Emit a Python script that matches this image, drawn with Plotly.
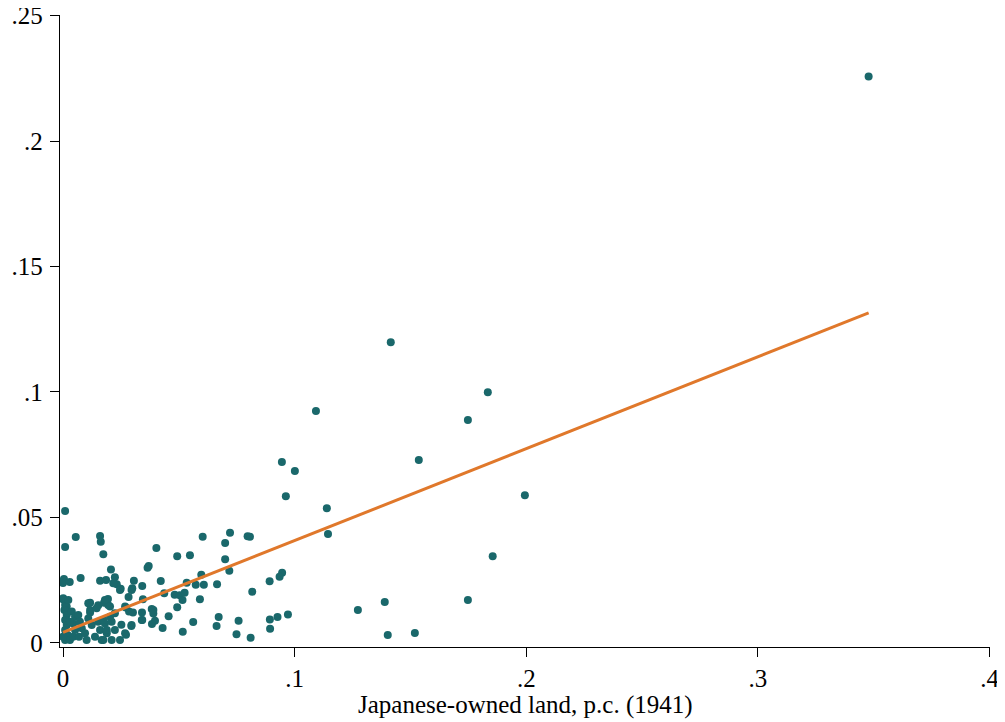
import plotly.graph_objects as go

# Japanese-owned land per capita (1941) vs outcome
land_jp = [
    0.3478, 0.1415, 0.1834, 0.1092, 0.1748, 0.0945, 0.1001, 0.1536, 0.0962, 0.1994,
    0.1139, 0.1144, 0.1855, 0.1748, 0.1389, 0.1273, 0.1402, 0.1519,
    0.0009, 0.0009, 0.0055, 0.0160, 0.0163, 0.0174, 0.0004, 0.0000, 0.0029, 0.0076,
    0.0160, 0.0186, 0.0224, 0.0232, 0.0217, 0.0306, 0.0207, 0.0365, 0.0370, 0.0403,
    0.0422, 0.0493, 0.0548, 0.0603, 0.0721, 0.0700, 0.0797, 0.0700, 0.0718, 0.0946,
    0.0935, 0.0892, 0.0817, 0.0807, 0.0249, 0.0299, 0.0342, 0.0534, 0.0573, 0.0597,
    0.0608, 0.0665, 0.0437, 0.0482, 0.0504, 0.0525, 0.0283, 0.0345, 0.0591, 0.0516,
    0.0493, 0.0194, 0.0152, 0.0117, 0.0177, 0.0000, 0.0016, 0.0271, 0.0285, 0.0302,
    0.0341, 0.0383, 0.0390, 0.0456, 0.0342, 0.0397, 0.0384, 0.0430, 0.0562, 0.0672,
    0.0663, 0.0758, 0.0517, 0.0749, 0.0810, 0.0893, 0.0926, 0.0971, 0.0894, 0.0272,
    0.0252, 0.0295, 0.0117,
    0.0001, 0.0009, 0.0006, 0.0016, 0.0009, 0.0016, 0.0009, 0.0020, 0.0009, 0.0030,
    0.0038, 0.0052, 0.0044, 0.0052, 0.0044, 0.0066, 0.0073, 0.0081, 0.0069, 0.0095,
    0.0102, 0.0109, 0.0117, 0.0109, 0.0124, 0.0138, 0.0145, 0.0152, 0.0160, 0.0167,
    0.0181, 0.0189, 0.0195, 0.0203, 0.0210, 0.0023, 0.0030, 0.0000,
    0.0246, 0.0296, 0.0181, 0.0203, 0.0268, 0.0224, 0.0174, 0.0210, 0.0296, 0.0340,
    0.0390, 0.0189, 0.0224, 0.0268, 0.0174, 0.0246,
]
outcome = [
    0.2257, 0.1198, 0.0999, 0.0924, 0.0888, 0.0721, 0.0685, 0.0729, 0.0585, 0.0589,
    0.0537, 0.0434, 0.0346, 0.0171, 0.0163, 0.0131, 0.0032, 0.0040,
    0.0526, 0.0382, 0.0422, 0.0426, 0.0403, 0.0354, 0.0255, 0.0239, 0.0243, 0.0259,
    0.0248, 0.0251, 0.0262, 0.0234, 0.0238, 0.0248, 0.0293, 0.0300, 0.0307, 0.0378,
    0.0247, 0.0346, 0.0350, 0.0423, 0.0439, 0.0398, 0.0425, 0.0334, 0.0288, 0.0280,
    0.0264, 0.0246, 0.0204, 0.0423, 0.0216, 0.0218, 0.0227, 0.0240, 0.0232, 0.0272,
    0.0232, 0.0234, 0.0198, 0.0192, 0.0190, 0.0200, 0.0183, 0.0174, 0.0174, 0.0171,
    0.0142, 0.0175, 0.0150, 0.0160, 0.0160, 0.0174, 0.0145, 0.0141, 0.0125, 0.0121,
    0.0121, 0.0135, 0.0117, 0.0107, 0.0092, 0.0089, 0.0076, 0.0060, 0.0084, 0.0104,
    0.0068, 0.0089, 0.0045, 0.0035, 0.0021, 0.0094, 0.0104, 0.0113, 0.0057, 0.0033,
    0.0073, 0.0068, 0.0121,
    0.0178, 0.0151, 0.0131, 0.0111, 0.0092, 0.0072, 0.0052, 0.0032, 0.0012, 0.0012,
    0.0125, 0.0105, 0.0078, 0.0052, 0.0025, 0.0111, 0.0085, 0.0059, 0.0025, 0.0039,
    0.0012, 0.0158, 0.0131, 0.0098, 0.0072, 0.0025, 0.0138, 0.0085, 0.0052, 0.0012,
    0.0078, 0.0039, 0.0151, 0.0105, 0.0012, 0.0171, 0.0085, 0.0025,
    0.0211, 0.0211, 0.0171, 0.0145, 0.0145, 0.0118, 0.0092, 0.0085, 0.0072, 0.0092,
    0.0131, 0.0052, 0.0052, 0.0039, 0.0012, 0.0012,
]

# Linear fit
fit_intercept = 0.0042
fit_slope = 0.366
fit_x = [min(land_jp), max(land_jp)]
fit_y = [fit_intercept + fit_slope * v for v in fit_x]

x_ticks = [0, 0.1, 0.2, 0.3, 0.4]
x_ticklabels = ["0", ".1", ".2", ".3", ".4"]
y_ticks = [0, 0.05, 0.1, 0.15, 0.2, 0.25]
y_ticklabels = ["0", ".05", ".1", ".15", ".2", ".25"]
x_title = "Japanese-owned land, p.c. (1941)"

FONT = "Liberation Serif"

fig = go.Figure()
fig.add_trace(go.Scatter(
    x=land_jp, y=outcome, mode="markers",
    marker=dict(color="#1a686b", size=8, line=dict(width=0)),
    showlegend=False, cliponaxis=False,
))
fig.add_trace(go.Scatter(
    x=fit_x, y=fit_y, mode="lines",
    line=dict(color="#e0782b", width=3),
    showlegend=False,
))

fig.update_layout(
    width=1005, height=722,
    margin=dict(l=52, r=23, t=7, b=83),
    paper_bgcolor="white", plot_bgcolor="white",
    font=dict(family=FONT, size=25, color="black"),
    xaxis=dict(
        range=[-0.0013, 0.4002], tickvals=x_ticks, ticktext=x_ticklabels,
        showline=True, linecolor="black", linewidth=1.3,
        ticks="outside", ticklen=9, tickwidth=1.3, tickcolor="black",
        showgrid=False, zeroline=False, automargin=False,
        ticklabeloverflow="allow",
    ),
    yaxis=dict(
        range=[-0.0016, 0.2502], tickvals=y_ticks, ticktext=y_ticklabels,
        showline=True, linecolor="black", linewidth=1.3,
        ticks="outside", ticklen=9, tickwidth=1.3, tickcolor="black",
        showgrid=False, zeroline=False, automargin=False, ticklabelstandoff=2,
        ticklabeloverflow="allow",
    ),
    annotations=[dict(
        text=x_title, xref="paper", yref="paper", x=0.5, y=0,
        xanchor="center", yanchor="top", yshift=-42, showarrow=False,
        font=dict(family=FONT, size=25),
    )],
)

fig.write_html("out.html")
